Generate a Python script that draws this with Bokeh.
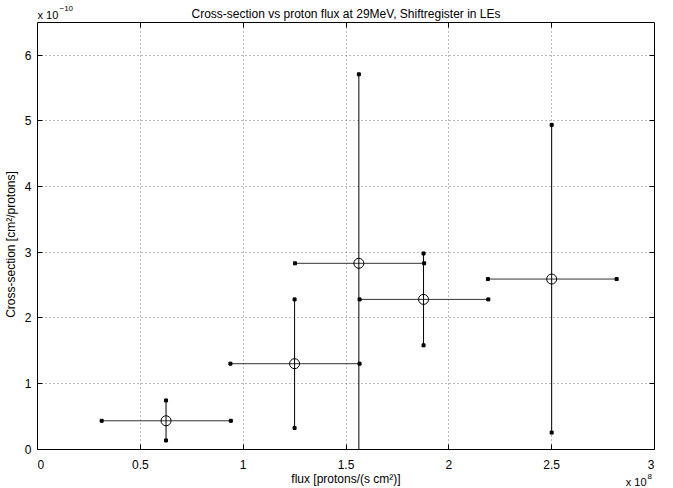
from bokeh.plotting import figure
from bokeh.models import Range1d, FixedTicker, LinearAxis, Label, ColumnDataSource, BoxAnnotation, Grid
from bokeh.embed import file_html
from bokeh.resources import INLINE

# data: flux in units of 1e8 protons/(s cm^2), cross-section in units of 1e-10 cm^2/protons
flux = [0.625, 1.25, 1.5625, 1.877, 2.50]
flux_lo = [0.312, 0.938, 1.252, 1.566, 2.19]
flux_hi = [0.940, 1.566, 1.880, 2.192, 2.816]
xsec = [0.43, 1.30, 2.83, 2.28, 2.59]
xsec_lo = [0.13, 0.32, -0.05, 1.58, 0.25]
xsec_hi = [0.74, 2.28, 5.71, 2.98, 4.94]

x_ticks = [0, 0.5, 1, 1.5, 2, 2.5, 3]
x_tick_labels = ["\u00a0\u00a00", "0.5", "1", "1.5", "2", "2.5", "3\u00a0\u00a0"]
y_ticks = [0, 1, 2, 3, 4, 5, 6]
X_MIN, X_MAX = 0, 3
Y_MIN, Y_MAX = 0, 6.5

FONT = "Liberation Sans"
FS = "12px"

# the frame is extended above and below the axes box so that the title, the
# x-axis label and the exponent labels can be drawn inside it
p = figure(frame_width=617, frame_height=488, output_backend="svg", toolbar_location=None,
           x_range=Range1d(X_MIN, X_MAX), y_range=Range1d(-0.602, 6.8354),
           x_axis_location=None, y_axis_location=None,
           min_border_left=32, min_border_right=7, min_border_top=0, min_border_bottom=0)
p.outline_line_color = None
p.background_fill_color = "white"
p.border_fill_color = "white"


def style_axis(ax):
    ax.minor_tick_line_color = None
    ax.axis_line_color = "black"
    ax.major_tick_line_color = "black"
    ax.major_label_text_font = FONT
    ax.major_label_text_font_size = FS
    ax.major_label_text_color = "black"
    ax.axis_label_text_font = FONT
    ax.axis_label_text_font_size = FS
    ax.axis_label_text_font_style = "normal"
    ax.axis_label_text_color = "black"
    ax.level = "overlay"


xax = LinearAxis(ticker=FixedTicker(ticks=x_ticks), fixed_location=Y_MIN, bounds=(X_MIN, X_MAX),
                 major_tick_in=5, major_tick_out=0, major_label_standoff=9)
style_axis(xax)
xax.major_label_overrides = dict(zip(x_ticks, x_tick_labels))
p.add_layout(xax, "below")

yax = LinearAxis(ticker=FixedTicker(ticks=y_ticks), bounds=(Y_MIN, Y_MAX),
                 major_tick_in=5, major_tick_out=0, axis_label="Cross-section [cm²/protons]",
                 axis_label_standoff=4, major_label_standoff=6)
style_axis(yax)
p.add_layout(yax, "left")

topax = LinearAxis(ticker=FixedTicker(ticks=x_ticks), fixed_location=Y_MAX, bounds=(X_MIN, X_MAX),
                   major_tick_in=0, major_tick_out=5, major_label_standoff=0)
style_axis(topax)
topax.major_label_text_font_size = "0px"
topax.major_label_text_color = None
p.add_layout(topax, "below")

rax = LinearAxis(ticker=FixedTicker(ticks=y_ticks), bounds=(Y_MIN, Y_MAX),
                 major_tick_in=5, major_tick_out=0, major_label_standoff=0)
style_axis(rax)
rax.major_label_text_font_size = "0px"
rax.major_label_text_color = None
p.add_layout(rax, "right")

p.center = [c for c in p.center if not isinstance(c, Grid)]
p.add_layout(Grid(dimension=0, ticker=FixedTicker(ticks=x_ticks), grid_line_color="#777777",
                  grid_line_dash="1 3", grid_line_width=1), "center")
p.add_layout(Grid(dimension=1, ticker=FixedTicker(ticks=y_ticks), grid_line_color="#777777",
                  grid_line_dash="1 3", grid_line_width=1), "center")

src = ColumnDataSource(dict(x=flux, xl=flux_lo, xh=flux_hi, y=xsec, yl=xsec_lo, yh=xsec_hi))

# horizontal error bars
p.segment(x0="xl", y0="y", x1="xh", y1="y", source=src, line_color="#333333", line_width=1)
# vertical error bars
p.segment(x0="x", y0="yl", x1="x", y1="yh", source=src, line_color="black", line_width=1)
# end dots
p.scatter(x="xl", y="y", source=src, marker="square", size=3, color="black")
p.scatter(x="xh", y="y", source=src, marker="square", size=3, color="black")
p.scatter(x="x", y="yl", source=src, marker="square", size=3, color="black")
p.scatter(x="x", y="yh", source=src, marker="square", size=3, color="black")
# data markers
p.scatter(x="x", y="y", source=src, marker="circle", size=10, fill_color=None,
          line_color="black", line_width=1)

# white masks outside the axes box
p.add_layout(BoxAnnotation(bottom=Y_MAX, fill_color="white", fill_alpha=1, line_color=None))
p.add_layout(BoxAnnotation(top=Y_MIN, fill_color="white", fill_alpha=1, line_color=None))

# title, x-axis label and exponent labels
lab = dict(text_baseline="alphabetic", text_font=FONT, text_color="black")
p.add_layout(Label(x=(X_MIN + X_MAX) / 2, y=Y_MAX, y_offset=9,
                   text="Cross-section vs proton flux at 29MeV, Shiftregister in LEs",
                   text_align="center", text_font_size=FS, **lab))
p.add_layout(Label(x=(X_MIN + X_MAX) / 2, y=Y_MIN, y_offset=-30,
                   text="flux [protons/(s cm²)]",
                   text_align="center", text_font_size=FS, **lab))
p.add_layout(Label(x=X_MIN, y=Y_MAX, y_offset=8, text="x 10", text_align="left",
                   text_font_size="11px", **lab))
p.add_layout(Label(x=X_MIN, y=Y_MAX, x_offset=22, y_offset=14, text="−10", text_align="left",
                   text_font_size="8px", **lab))
p.add_layout(Label(x=X_MAX, y=Y_MIN, x_offset=-8, y_offset=-33, text="x 10", text_align="right",
                   text_font_size="11px", **lab))
p.add_layout(Label(x=X_MAX, y=Y_MIN, x_offset=-7, y_offset=-27, text="8", text_align="left",
                   text_font_size="8px", **lab))

open("out.html", "w").write(file_html(p, INLINE))
